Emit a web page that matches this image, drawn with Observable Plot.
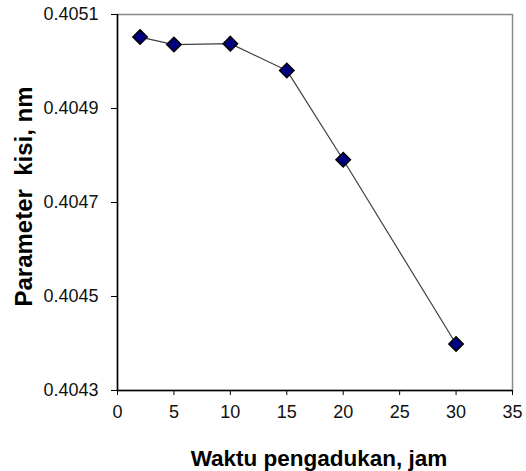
<!DOCTYPE html>
<html>
<head>
<meta charset="utf-8">
<script src="https://cdn.jsdelivr.net/npm/d3@7"></script>
<script src="https://cdn.jsdelivr.net/npm/@observablehq/plot@0.6"></script>
<style>
  html, body { margin: 0; padding: 0; background: #fff; }
  #chart { width: 526px; height: 471px; }
</style>
</head>
<body>
<div id="chart"></div>
<script>
const hours = [2, 5, 10, 15, 20, 30];
const latticeParam = [0.405052, 0.405036, 0.405038, 0.404981, 0.404791, 0.404399];
const xTicks = [0, 5, 10, 15, 20, 25, 30, 35];
const yTicks = [0.4043, 0.4045, 0.4047, 0.4049, 0.4051];
const xLabel = "Waktu pengadukan, jam";
const yLabel = "Parameter  kisi, nm";

const data = hours.map((h, i) => ({x: h, y: latticeParam[i]}));

const chart = Plot.plot({
  width: 526,
  height: 471,
  marginLeft: 117,
  marginRight: 14,
  marginTop: 14,
  marginBottom: 81,
  style: {fontFamily: "'Liberation Sans', Arial, sans-serif", fontSize: "18px", color: "#111", background: "#fff"},
  x: {domain: [0, 35]},
  y: {domain: [0.4043, 0.4051]},
  marks: [
    Plot.frame({stroke: "#888", strokeWidth: 1.5}),
    Plot.ruleX([0], {stroke: "#000", strokeWidth: 1.5}),
    Plot.ruleY([0.4043], {stroke: "#000", strokeWidth: 1.5}),
    Plot.axisX({ticks: xTicks, tickSize: 5, tickPadding: 10, tickFormat: d => String(d), fontSize: 18, label: null, stroke: "#000"}),
    Plot.axisY({ticks: yTicks, tickSize: 6, tickPadding: 13, tickFormat: d => d.toFixed(4), fontSize: 18, label: null, stroke: "#000"}),
    Plot.text([xLabel], {frameAnchor: "bottom", lineAnchor: "middle", dy: 68, dx: 4, fontSize: 22.5, fontWeight: "bold", fill: "#000"}),
    Plot.text([yLabel], {frameAnchor: "left", textAnchor: "middle", lineAnchor: "middle", dx: -93, dy: -6, rotate: -90, fontSize: 24, fontWeight: "bold", fill: "#000"}),
    Plot.line(data, {x: "x", y: "y", stroke: "#404040", strokeWidth: 1.2}),
    Plot.dot(data, {x: "x", y: "y", symbol: "diamond2", r: 6.5, fill: "#000080", stroke: "#000", strokeWidth: 1.5})
  ]
});
document.getElementById("chart").append(chart);
</script>
</body>
</html>
